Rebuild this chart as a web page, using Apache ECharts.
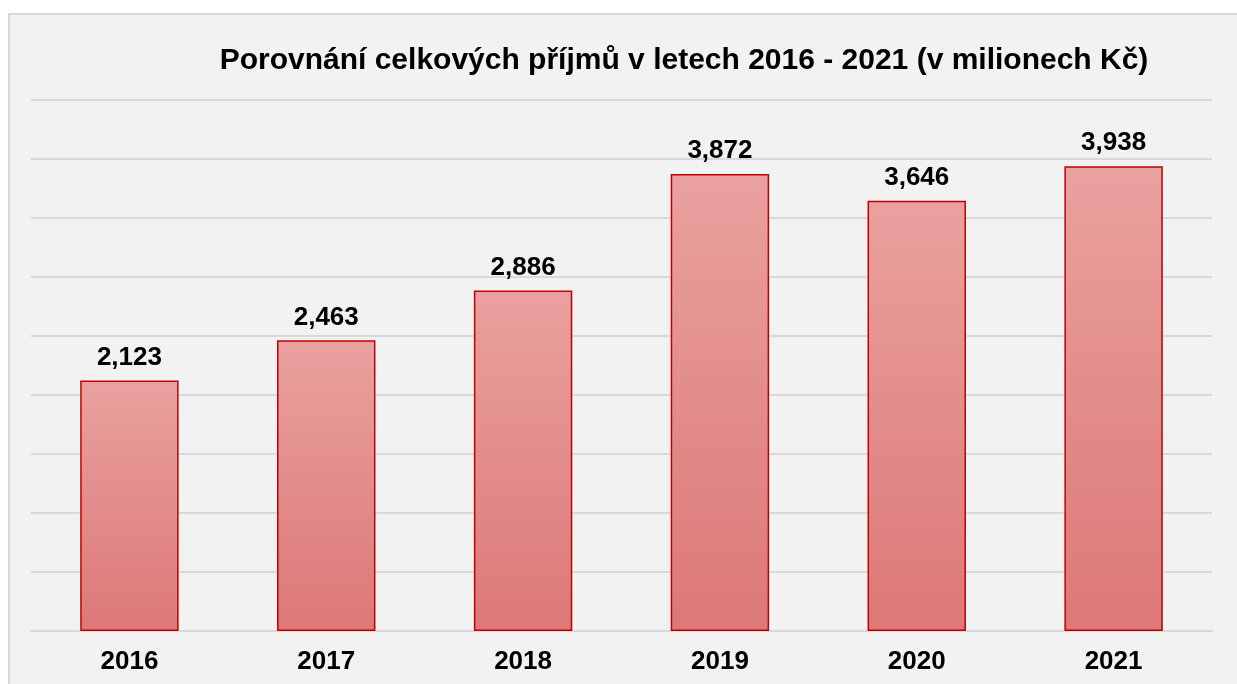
<!DOCTYPE html>
<html>
<head>
<meta charset="utf-8">
<script src="https://cdn.jsdelivr.net/npm/echarts@6/dist/echarts.min.js"></script>
<style>
  html, body { margin: 0; padding: 0; background: #fff; }
  #panel {
    position: absolute; left: 8px; top: 13px; width: 1229px; height: 671px;
    background: #f2f2f2; border-left: 2px solid #d9d9d9; border-top: 2px solid #d9d9d9;
  }
  #main { width: 1229px; height: 671px; }
</style>
</head>
<body>
<div id="panel"><div id="main"></div></div>
<script>
// roky a příjmy (mil. Kč)
var years = ["2016", "2017", "2018", "2019", "2020", "2021"];
var income = [2123, 2463, 2886, 3872, 3646, 3938];

var chart = echarts.init(document.getElementById("main"));

var option = {
  animation: false,
  title: {
    text: "Porovnání celkových příjmů v letech 2016 - 2021 (v milionech Kč)",
    left: 669,
    top: 26,
    textAlign: "center",
    textStyle: {
      fontFamily: "Liberation Sans, Arial",
      fontSize: 30,
      fontWeight: "bold",
      color: "#000"
    }
  },
  grid: { left: 21, right: 27, top: 85, bottom: 55 },
  xAxis: {
    type: "category",
    data: years,
    axisTick: { show: false },
    axisLine: { lineStyle: { color: "#d9d9d9", width: 2 } },
    axisLabel: {
      margin: 18,
      fontFamily: "Liberation Sans, Arial",
      fontSize: 26,
      fontWeight: "bold",
      color: "#000"
    }
  },
  yAxis: {
    type: "value",
    min: 0,
    max: 4500,
    interval: 500,
    axisLabel: { show: false },
    axisLine: { show: false },
    splitLine: { lineStyle: { color: "#d9d9d9", width: 2 } }
  },
  series: [
    {
      type: "bar",
      data: income,
      barWidth: "50%",
      itemStyle: {
        color: new echarts.graphic.LinearGradient(0, 0, 0, 1, [
          { offset: 0, color: "#e9a19f" },
          { offset: 1, color: "#dc7877" }
        ]),
        borderColor: "#c00000",
        borderWidth: 1.5
      },
      label: {
        show: true,
        position: "top",
        distance: 10,
        fontFamily: "Liberation Sans, Arial",
        fontSize: 26,
        fontWeight: "bold",
        color: "#000",
        formatter: function (p) {
          return p.value.toLocaleString("en-US");
        }
      }
    }
  ]
};

chart.setOption(option);
</script>
</body>
</html>
